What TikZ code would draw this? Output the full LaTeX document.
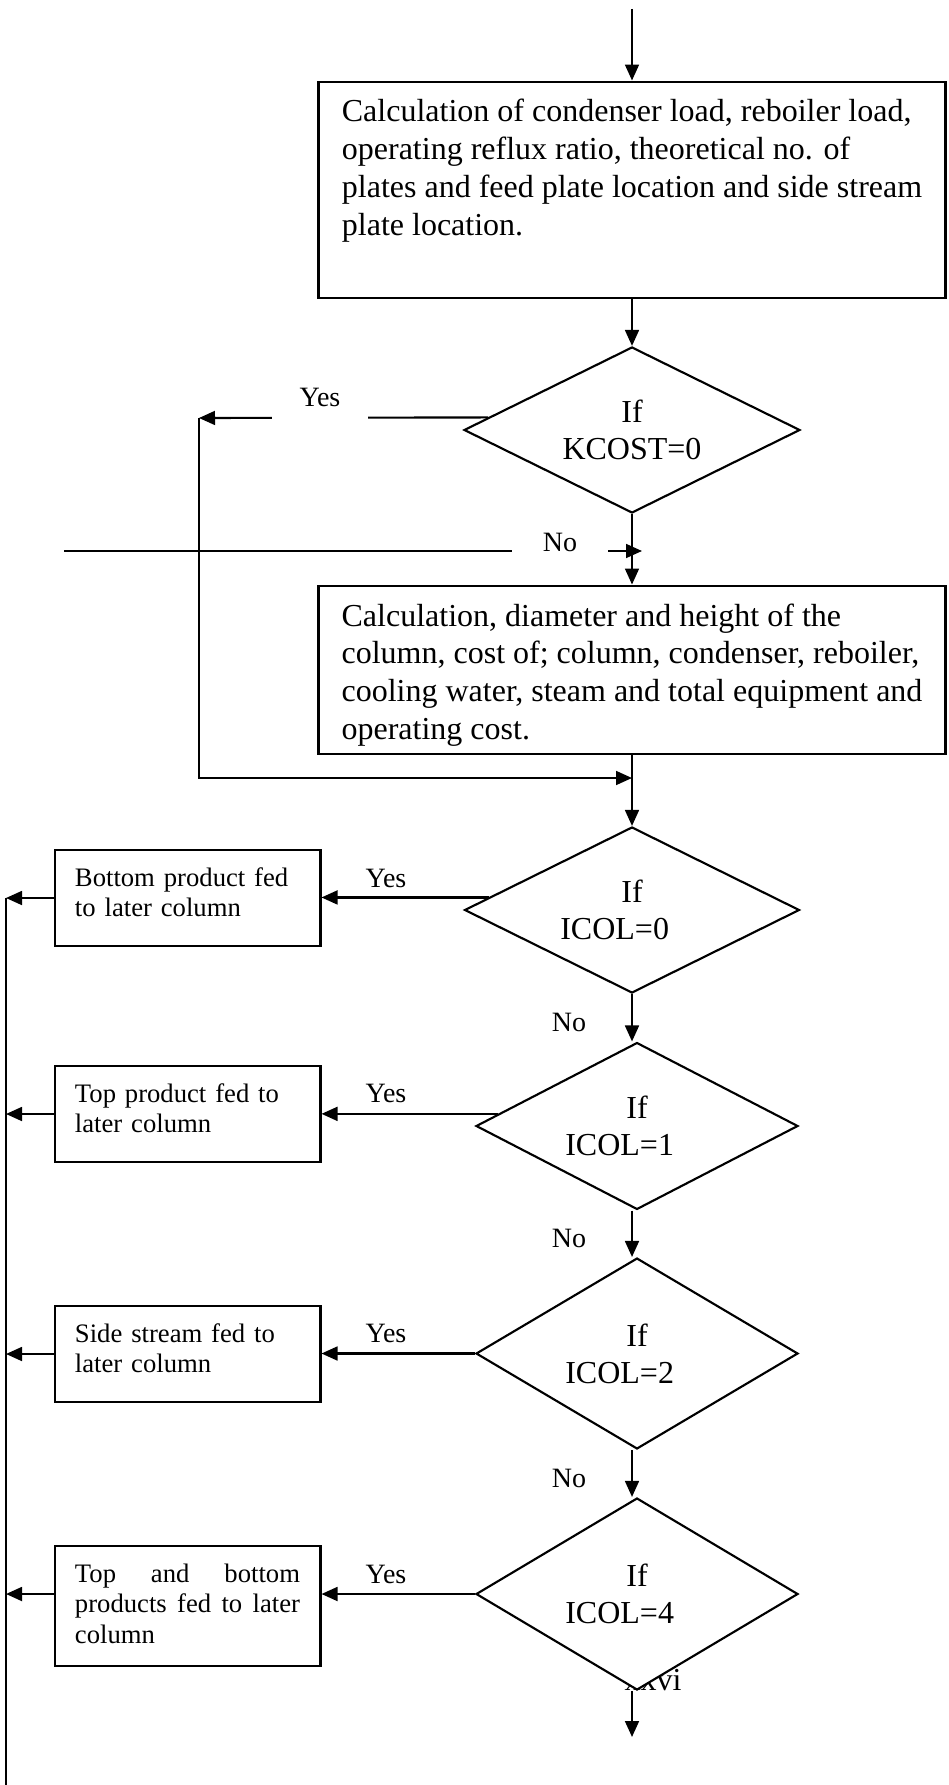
\documentclass[tikz,border=0pt]{standalone}
\usepackage{fontspec}
\setmainfont{Liberation Serif}
\usetikzlibrary{shapes.geometric,arrows.meta}

\tikzset{
  calcbox/.style={draw, line width=1.1pt, inner xsep=0pt, inner ysep=0pt,
    minimum width=235.1pt, align=left, text height=57.6pt,
    font=\fontsize{12}{14.2}\selectfont},
  sidebox/.style={draw, line width=1.1pt, inner xsep=7.5pt, inner ysep=0pt,
    text width=84.4pt, align=left, text height=13.5pt,
    font=\fontsize{10}{11.6}\selectfont},
  decision/.style={diamond, draw, thick, fill=white, aspect=2, inner sep=0pt,
    align=center, font=\fontsize{12}{13.8}\selectfont},
  lbl/.style={inner sep=0pt, font=\fontsize{10.5}{12}\selectfont},
  gaplbl/.style={lbl, fill=white, minimum width=36pt, anchor=base}
}
\newcommand{\icol}[1]{If\\ICOL=#1\hspace*{13pt}}

\begin{document}
\begin{tikzpicture}[>={Triangle[length=6pt,width=5.2pt]}, x=0.375pt, y=-0.375pt, thick]
  % Frame
  \fill[white] (0,0) rectangle (948,1785);
  \useasboundingbox (0,0) rectangle (948,1785);

  % Page number (lies under the last diamond)
  \node[font=\fontsize{12}{13.8}\selectfont, inner sep=0pt, anchor=base] (page) at (653,1690) {xxvi};

  % Calculation boxes
  \node[calcbox, text depth=23.4pt] (calc1) at (632,190)
    {Calculation of condenser load, reboiler load,\\operating reflux ratio, theoretical no. of\\plates and feed plate location and side stream\\plate location.};
  \node[calcbox, text depth=5.4pt] (calc2) at (632,670)
    {Calculation, diameter and height of the\\column, cost of; column, condenser, reboiler,\\cooling water, steam and total equipment and\\operating cost.};

  % Decisions
  \node[decision, minimum width=126pt, minimum height=62.25pt] (kcost) at (632,430) {If\\KCOST=0};
  \node[decision, minimum width=125.6pt, minimum height=62.25pt] (col0) at (632,910) {\icol{0}};
  \node[decision, minimum width=120.75pt, minimum height=62.6pt] (col1) at (637,1126) {\icol{1}};
  \node[decision, minimum width=120.75pt, minimum height=71.6pt] (col2) at (637,1353.5) {\icol{2}};
  \node[decision, minimum width=120.75pt, minimum height=72pt] (col4) at (637,1594) {\icol{4}};

  % Side boxes
  \node[sidebox, text depth=22.5pt] (bot) at (187.5,898) {Bottom product fed\\to later column};
  \node[sidebox, text depth=22.5pt] (topp) at (187.5,1114) {Top product fed to\\later column};
  \node[sidebox, text depth=22.5pt] (side) at (187.5,1354) {Side stream fed to\\later column};
  \node[sidebox, text depth=31.5pt, align=justify] (both) at (187.5,1606) {Top and bottom products fed to later column};

  % Free ends
  \coordinate (entry) at (632,9);
  \coordinate (back) at (199,418);
  \coordinate (join) at (632,778);
  \coordinate (ret) at (64,551);
  \coordinate (retin) at (642,551);
  \coordinate (left) at (6,898);
  \coordinate (lend) at (6,1785);
  \coordinate (out) at (632,1737);

  % Main line
  \draw[->] (entry) -- (calc1.north);
  \draw[->] (calc1.south) -- (kcost.north);
  \draw[->] (kcost.south) -- (calc2.north);
  \draw[->] (calc2.south) -- (col0.north);
  \draw[->] (col0.south) -- (col1.north -| col0.south);
  \draw[->] (col1.south -| entry) -- (col2.north -| entry);
  \draw[->] (col2.south -| entry) -- (col4.north -| entry);
  \draw[->] (col4.south -| out) -- (out);

  % KCOST=0 branch
  \draw[->] (kcost.175) -- (back);
  \draw[->] (back) |- (join);
  \draw[->] (ret) -- (retin);

  % ICOL branches
  \draw[->] (col0.175) -- (col0.175 -| bot.east);
  \draw[->] (col1.175) -- (col1.175 -| topp.east);
  \draw[->] (col2.west) -- (col2.west -| side.east);
  \draw[->] (col4.west) -- (col4.west -| both.east);
  \draw[->] (bot.west) -- (bot.west -| left);
  \draw[->] (topp.west) -- (topp.west -| left);
  \draw[->] (side.west) -- (side.west -| left);
  \draw[->] (col4.west -| both.west) -- (col4.west -| left);
  \draw (left) -- (lend);

  % Labels
  \node[gaplbl, text depth=5.5pt] (yes0) at (320,407) {Yes};
  \node[gaplbl, text depth=4pt] (no0) at (560,551) {No};
  \node[lbl] (yes1) at (386,878) {Yes};
  \node[lbl] (yes2) at (386,1093) {Yes};
  \node[lbl] (yes3) at (386,1333) {Yes};
  \node[lbl] (yes4) at (386,1574) {Yes};
  \node[lbl] (no1) at (569,1022) {No};
  \node[lbl] (no2) at (569,1238) {No};
  \node[lbl] (no3) at (569,1478) {No};
\end{tikzpicture}
\end{document}
